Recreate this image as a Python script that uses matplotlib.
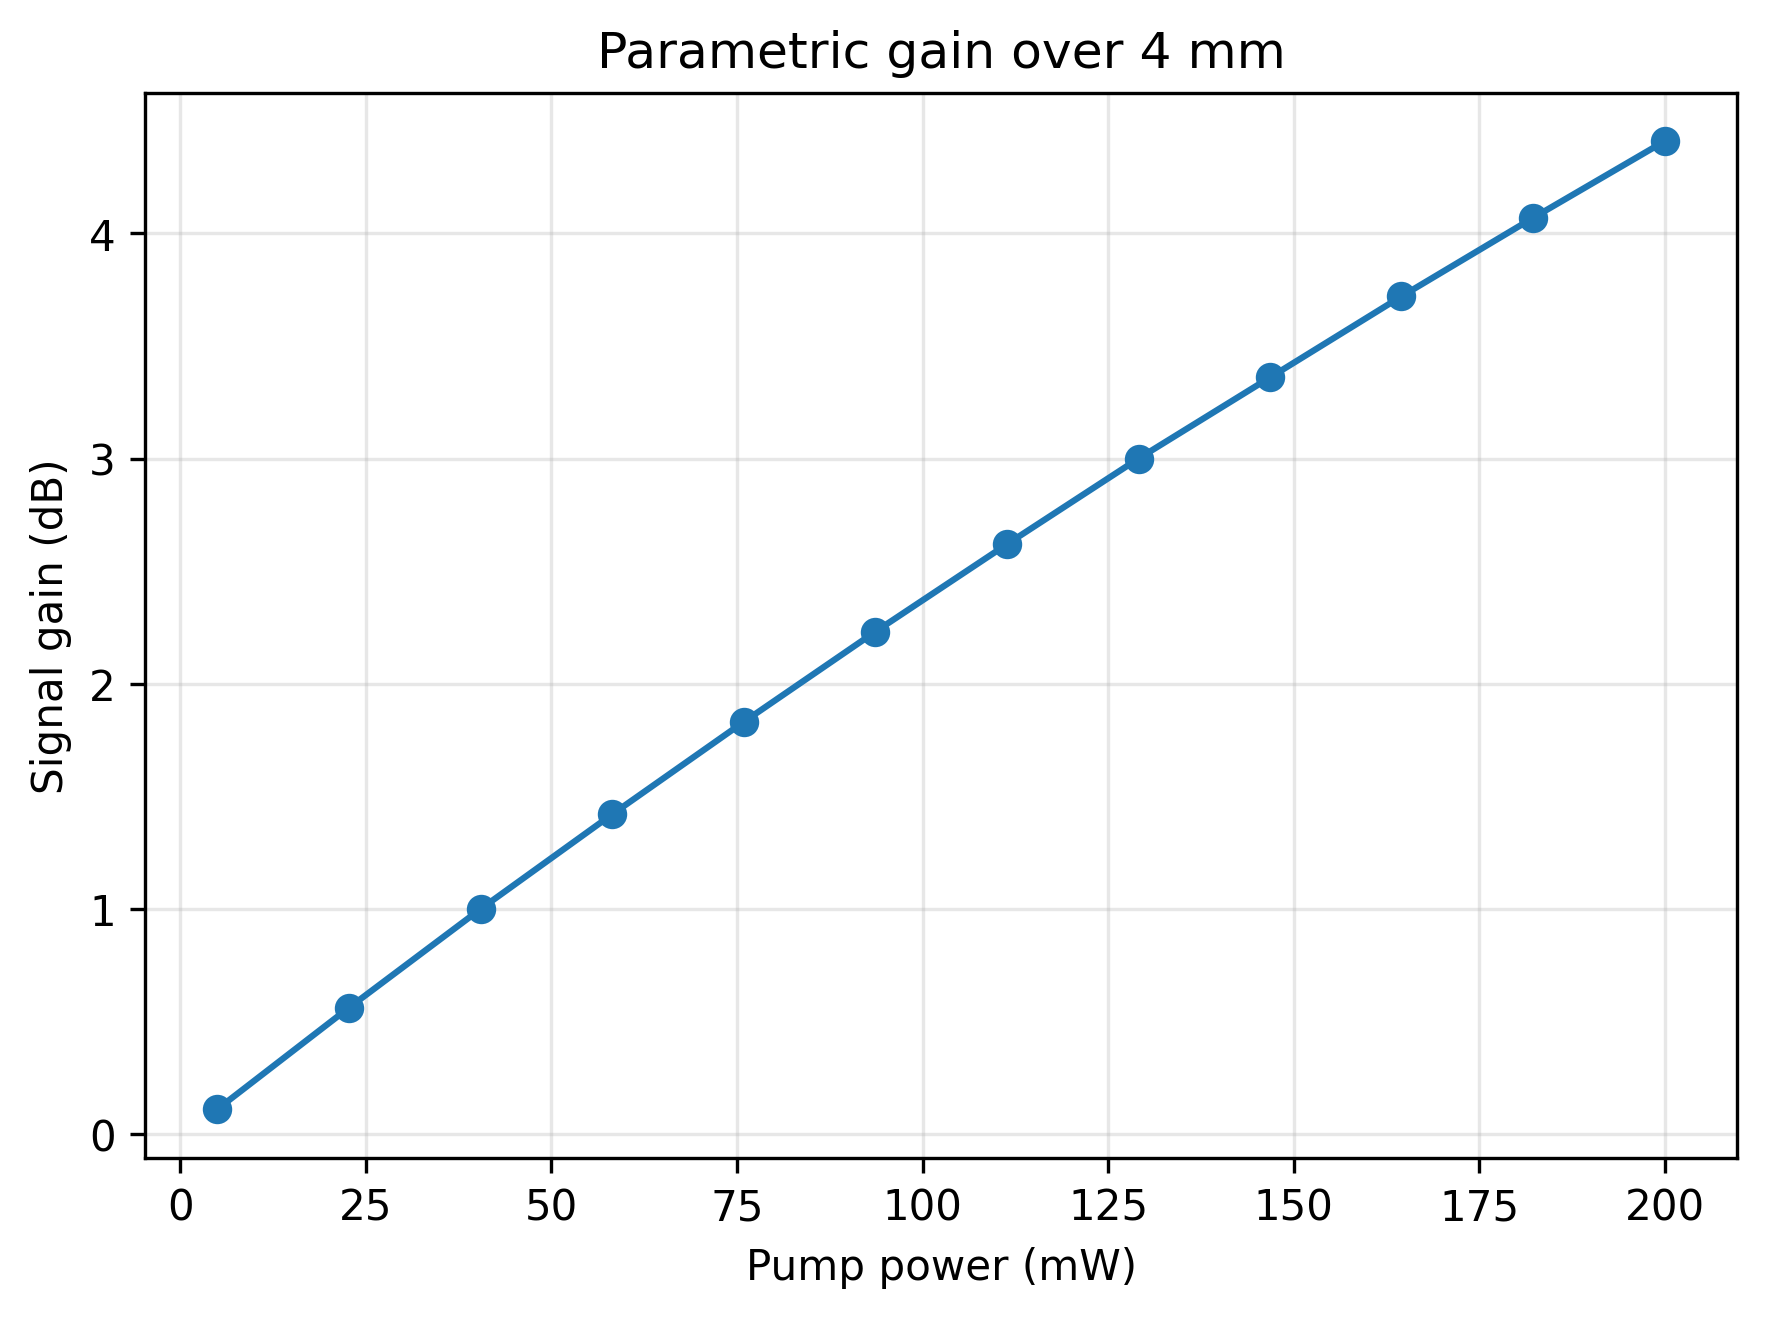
import matplotlib
matplotlib.use("Agg")
import matplotlib.pyplot as plt

pump_power_mw = [5.0, 22.7, 40.5, 58.2, 75.9, 93.6, 111.4, 129.1, 146.8, 164.5, 182.3, 200.0]
signal_gain_db = [0.11, 0.56, 1.00, 1.42, 1.83, 2.23, 2.62, 3.00, 3.36, 3.72, 4.07, 4.41]

fig, ax = plt.subplots(figsize=(5.85, 4.358), dpi=302.4)
ax.plot(pump_power_mw, signal_gain_db, marker='o', color='#1f77b4', linewidth=1.5, markersize=6)
ax.set_xlabel('Pump power (mW)')
ax.set_ylabel('Signal gain (dB)')
ax.set_title('Parametric gain over 4 mm')
ax.grid(True, alpha=0.3)
fig.subplots_adjust(left=0.082, right=0.982, top=0.929, bottom=0.121)
fig.savefig('out.png', dpi=302.4)
